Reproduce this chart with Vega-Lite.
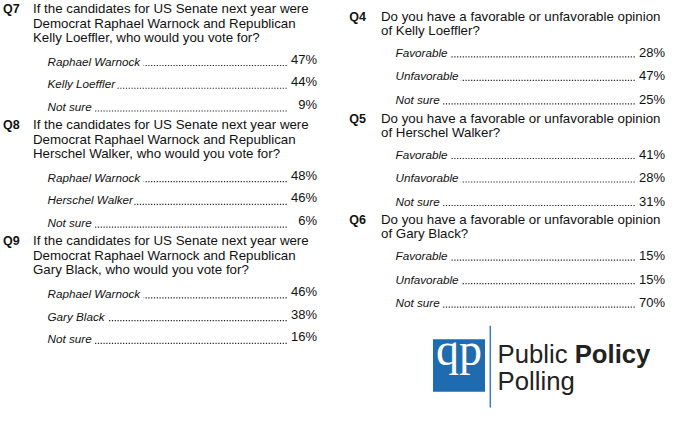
{
  "$schema": "https://vega.github.io/schema/vega-lite/v6.json",
  "padding": {"left": 3, "top": 0, "right": 0, "bottom": 0},
  "background": "white",
  "spacing": 32,
  "config": {"view": {"stroke": null}, "font": "Liberation Sans"},
  "datasets": {
    "left": [
      {"q": "Q7", "kind": "line", "n": 1, "text": "If the candidates for US Senate next year were"},
      {"q": "Q7", "kind": "line", "n": 2, "text": "Democrat Raphael Warnock and Republican"},
      {"q": "Q7", "kind": "line", "n": 3, "text": "Kelly Loeffler, who would you vote for?"},
      {"q": "Q7", "kind": "opt", "n": 1, "text": "Raphael Warnock", "pct": 47},
      {"q": "Q7", "kind": "opt", "n": 2, "text": "Kelly Loeffler", "pct": 44},
      {"q": "Q7", "kind": "opt", "n": 3, "text": "Not sure", "pct": 9},
      {"q": "Q8", "kind": "line", "n": 1, "text": "If the candidates for US Senate next year were"},
      {"q": "Q8", "kind": "line", "n": 2, "text": "Democrat Raphael Warnock and Republican"},
      {"q": "Q8", "kind": "line", "n": 3, "text": "Herschel Walker, who would you vote for?"},
      {"q": "Q8", "kind": "opt", "n": 1, "text": "Raphael Warnock", "pct": 48},
      {"q": "Q8", "kind": "opt", "n": 2, "text": "Herschel Walker", "pct": 46},
      {"q": "Q8", "kind": "opt", "n": 3, "text": "Not sure", "pct": 6},
      {"q": "Q9", "kind": "line", "n": 1, "text": "If the candidates for US Senate next year were"},
      {"q": "Q9", "kind": "line", "n": 2, "text": "Democrat Raphael Warnock and Republican"},
      {"q": "Q9", "kind": "line", "n": 3, "text": "Gary Black, who would you vote for?"},
      {"q": "Q9", "kind": "opt", "n": 1, "text": "Raphael Warnock", "pct": 46},
      {"q": "Q9", "kind": "opt", "n": 2, "text": "Gary Black", "pct": 38},
      {"q": "Q9", "kind": "opt", "n": 3, "text": "Not sure", "pct": 16}
    ],
    "right": [
      {"q": "Q4", "kind": "line", "n": 1, "text": "Do you have a favorable or unfavorable opinion"},
      {"q": "Q4", "kind": "line", "n": 2, "text": "of Kelly Loeffler?"},
      {"q": "Q4", "kind": "opt", "n": 1, "text": "Favorable", "pct": 28},
      {"q": "Q4", "kind": "opt", "n": 2, "text": "Unfavorable", "pct": 47},
      {"q": "Q4", "kind": "opt", "n": 3, "text": "Not sure", "pct": 25},
      {"q": "Q5", "kind": "line", "n": 1, "text": "Do you have a favorable or unfavorable opinion"},
      {"q": "Q5", "kind": "line", "n": 2, "text": "of Herschel Walker?"},
      {"q": "Q5", "kind": "opt", "n": 1, "text": "Favorable", "pct": 41},
      {"q": "Q5", "kind": "opt", "n": 2, "text": "Unfavorable", "pct": 28},
      {"q": "Q5", "kind": "opt", "n": 3, "text": "Not sure", "pct": 31},
      {"q": "Q6", "kind": "line", "n": 1, "text": "Do you have a favorable or unfavorable opinion"},
      {"q": "Q6", "kind": "line", "n": 2, "text": "of Gary Black?"},
      {"q": "Q6", "kind": "opt", "n": 1, "text": "Favorable", "pct": 15},
      {"q": "Q6", "kind": "opt", "n": 2, "text": "Unfavorable", "pct": 15},
      {"q": "Q6", "kind": "opt", "n": 3, "text": "Not sure", "pct": 70}
    ],
    "logo": [
      {"word1": "Public", "word2": "Policy", "word3": "Polling", "icon": "qp"}
    ]
  },
  "hconcat": [
    {
      "data": {"name": "left"},
      "bounds": "flush",
      "spacing": {"row": 6.2},
      "facet": {"row": {"field": "q", "type": "nominal", "header": {"labels": false, "title": null}}},
      "spec": {
        "width": 284,
        "height": 110,
        "resolve": {"scale": {"y": "independent"}},
        "layer": [
          {
            "transform": [{"filter": "datum.kind === 'line'"}],
            "mark": {"type": "text", "align": "left", "baseline": "alphabetic", "fontSize": 13.3, "color": "#111"},
            "encoding": {
              "x": {"datum": 0, "type": "quantitative", "scale": {"domain": [0, 284], "nice": false, "zero": false}, "axis": null},
              "y": {"field": "n", "type": "ordinal", "scale": {"type": "point", "domain": [1, 2, 3], "range": [13, 42], "padding": 0}, "axis": null},
              "text": {"field": "text"}
            }
          },
          {
            "transform": [{"filter": "datum.kind === 'line' && datum.n === 1"}],
            "mark": {"type": "text", "align": "left", "baseline": "alphabetic", "fontSize": 12.5, "fontWeight": "bold", "color": "#111"},
            "encoding": {
              "x": {"datum": -30, "type": "quantitative", "scale": {"domain": [0, 284], "nice": false, "zero": false}, "axis": null},
              "y": {"field": "n", "type": "ordinal", "scale": {"type": "point", "domain": [1, 2, 3], "range": [13, 42], "padding": 0}, "axis": null},
              "text": {"field": "q"}
            }
          },
          {
            "transform": [{"filter": "datum.kind === 'opt'"}],
            "mark": {"type": "rule", "strokeDash": [1.2, 1.6], "strokeWidth": 1.2, "color": "#222"},
            "encoding": {
              "x": {"datum": 14.5, "type": "quantitative", "scale": {"domain": [0, 284], "nice": false, "zero": false}, "axis": null},
              "x2": {"datum": 255},
              "y": {"field": "n", "type": "ordinal", "scale": {"type": "point", "domain": [1, 2, 3], "range": [65.5, 111], "padding": 0}, "axis": null}
            }
          },
          {
            "transform": [{"filter": "datum.kind === 'opt'"}],
            "mark": {"type": "text", "align": "left", "baseline": "alphabetic", "fontSize": 11.7, "fontStyle": "italic", "fill": "white", "stroke": "white", "strokeWidth": 7.5},
            "encoding": {
              "x": {"datum": 14.5, "type": "quantitative", "scale": {"domain": [0, 284], "nice": false, "zero": false}, "axis": null},
              "y": {"field": "n", "type": "ordinal", "scale": {"type": "point", "domain": [1, 2, 3], "range": [65.5, 111], "padding": 0}, "axis": null},
              "text": {"field": "text"}
            }
          },
          {
            "transform": [{"filter": "datum.kind === 'opt'"}],
            "mark": {"type": "text", "align": "left", "baseline": "alphabetic", "fontSize": 11.7, "fontStyle": "italic", "color": "#111"},
            "encoding": {
              "x": {"datum": 14.5, "type": "quantitative", "scale": {"domain": [0, 284], "nice": false, "zero": false}, "axis": null},
              "y": {"field": "n", "type": "ordinal", "scale": {"type": "point", "domain": [1, 2, 3], "range": [65.5, 111], "padding": 0}, "axis": null},
              "text": {"field": "text"}
            }
          },
          {
            "transform": [{"filter": "datum.kind === 'opt'"}, {"calculate": "datum.pct + '%'", "as": "pct_label"}],
            "mark": {"type": "text", "align": "right", "baseline": "alphabetic", "fontSize": 13, "dy": -2, "color": "#111"},
            "encoding": {
              "x": {"datum": 284, "type": "quantitative", "scale": {"domain": [0, 284], "nice": false, "zero": false}, "axis": null},
              "y": {"field": "n", "type": "ordinal", "scale": {"type": "point", "domain": [1, 2, 3], "range": [65.5, 111], "padding": 0}, "axis": null},
              "text": {"field": "pct_label"}
            }
          }
        ]
      }
    },
    {
      "spacing": 11.8,
      "vconcat": [
        {
          "data": {"name": "right"},
          "bounds": "flush",
          "spacing": {"row": 1.7},
          "facet": {"row": {"field": "q", "type": "nominal", "header": {"labels": false, "title": null}}},
          "spec": {
            "width": 284,
            "height": 100,
            "resolve": {"scale": {"y": "independent"}},
            "layer": [
              {
                "transform": [{"filter": "datum.kind === 'line'"}],
                "mark": {"type": "text", "align": "left", "baseline": "alphabetic", "fontSize": 13.3, "color": "#111"},
                "encoding": {
                  "x": {"datum": 0, "type": "quantitative", "scale": {"domain": [0, 284], "nice": false, "zero": false}, "axis": null},
                  "y": {"field": "n", "type": "ordinal", "scale": {"type": "point", "domain": [1, 2], "range": [20.8, 34.8], "padding": 0}, "axis": null},
                  "text": {"field": "text"}
                }
              },
              {
                "transform": [{"filter": "datum.kind === 'line' && datum.n === 1"}],
                "mark": {"type": "text", "align": "left", "baseline": "alphabetic", "fontSize": 12.5, "fontWeight": "bold", "color": "#111"},
                "encoding": {
                  "x": {"datum": -31.7, "type": "quantitative", "scale": {"domain": [0, 284], "nice": false, "zero": false}, "axis": null},
                  "y": {"field": "n", "type": "ordinal", "scale": {"type": "point", "domain": [1, 2], "range": [20.8, 34.8], "padding": 0}, "axis": null},
                  "text": {"field": "q"}
                }
              },
              {
                "transform": [{"filter": "datum.kind === 'opt'"}],
                "mark": {"type": "rule", "strokeDash": [1.2, 1.6], "strokeWidth": 1.2, "color": "#222"},
                "encoding": {
                  "x": {"datum": 14.5, "type": "quantitative", "scale": {"domain": [0, 284], "nice": false, "zero": false}, "axis": null},
                  "x2": {"datum": 255},
                  "y": {"field": "n", "type": "ordinal", "scale": {"type": "point", "domain": [1, 2, 3], "range": [56.8, 103.8], "padding": 0}, "axis": null}
                }
              },
              {
                "transform": [{"filter": "datum.kind === 'opt'"}],
                "mark": {"type": "text", "align": "left", "baseline": "alphabetic", "fontSize": 11.7, "fontStyle": "italic", "fill": "white", "stroke": "white", "strokeWidth": 7.5},
                "encoding": {
                  "x": {"datum": 14.5, "type": "quantitative", "scale": {"domain": [0, 284], "nice": false, "zero": false}, "axis": null},
                  "y": {"field": "n", "type": "ordinal", "scale": {"type": "point", "domain": [1, 2, 3], "range": [56.8, 103.8], "padding": 0}, "axis": null},
                  "text": {"field": "text"}
                }
              },
              {
                "transform": [{"filter": "datum.kind === 'opt'"}],
                "mark": {"type": "text", "align": "left", "baseline": "alphabetic", "fontSize": 11.7, "fontStyle": "italic", "color": "#111"},
                "encoding": {
                  "x": {"datum": 14.5, "type": "quantitative", "scale": {"domain": [0, 284], "nice": false, "zero": false}, "axis": null},
                  "y": {"field": "n", "type": "ordinal", "scale": {"type": "point", "domain": [1, 2, 3], "range": [56.8, 103.8], "padding": 0}, "axis": null},
                  "text": {"field": "text"}
                }
              },
              {
                "transform": [{"filter": "datum.kind === 'opt'"}, {"calculate": "datum.pct + '%'", "as": "pct_label"}],
                "mark": {"type": "text", "align": "right", "baseline": "alphabetic", "fontSize": 13, "color": "#111"},
                "encoding": {
                  "x": {"datum": 284, "type": "quantitative", "scale": {"domain": [0, 284], "nice": false, "zero": false}, "axis": null},
                  "y": {"field": "n", "type": "ordinal", "scale": {"type": "point", "domain": [1, 2, 3], "range": [56.8, 103.8], "padding": 0}, "axis": null},
                  "text": {"field": "pct_label"}
                }
              }
            ]
          }
        },
        {
          "data": {"name": "logo"},
          "width": 240,
          "height": 85,
          "layer": [
            {
              "mark": {"type": "rect", "color": "#1f6bb0"},
              "encoding": {
                "x": {"datum": 52, "type": "quantitative", "scale": {"domain": [0, 240], "nice": false, "zero": false}, "axis": null},
                "x2": {"datum": 104},
                "y": {"datum": 16.5, "type": "quantitative", "scale": {"domain": [0, 85], "nice": false, "zero": false, "reverse": true}, "axis": null},
                "y2": {"datum": 69}
              }
            },
            {
              "mark": {"type": "rule", "color": "#3a7cc2", "strokeWidth": 1.5},
              "encoding": {
                "x": {"datum": 109.3, "type": "quantitative", "scale": {"domain": [0, 240], "nice": false, "zero": false}, "axis": null},
                "y": {"datum": 3, "type": "quantitative", "scale": {"domain": [0, 85], "nice": false, "zero": false, "reverse": true}, "axis": null},
                "y2": {"datum": 84.7}
              }
            },
            {
              "mark": {"type": "text", "align": "center", "baseline": "alphabetic", "font": "Liberation Serif", "fontSize": 46, "color": "white"},
              "encoding": {
                "x": {"datum": 78, "type": "quantitative", "scale": {"domain": [0, 240], "nice": false, "zero": false}, "axis": null},
                "y": {"datum": 42, "type": "quantitative", "scale": {"domain": [0, 85], "nice": false, "zero": false, "reverse": true}, "axis": null},
                "text": {"field": "icon"}
              }
            },
            {
              "mark": {"type": "text", "align": "left", "baseline": "alphabetic", "fontSize": 25.7, "color": "#222"},
              "encoding": {
                "x": {"datum": 116.6, "type": "quantitative", "scale": {"domain": [0, 240], "nice": false, "zero": false}, "axis": null},
                "y": {"datum": 39.7, "type": "quantitative", "scale": {"domain": [0, 85], "nice": false, "zero": false, "reverse": true}, "axis": null},
                "text": {"field": "word1"}
              }
            },
            {
              "mark": {"type": "text", "align": "left", "baseline": "alphabetic", "fontSize": 25.7, "fontWeight": "bold", "color": "#222"},
              "encoding": {
                "x": {"datum": 193.7, "type": "quantitative", "scale": {"domain": [0, 240], "nice": false, "zero": false}, "axis": null},
                "y": {"datum": 39.7, "type": "quantitative", "scale": {"domain": [0, 85], "nice": false, "zero": false, "reverse": true}, "axis": null},
                "text": {"field": "word2"}
              }
            },
            {
              "mark": {"type": "text", "align": "left", "baseline": "alphabetic", "fontSize": 25.7, "color": "#222"},
              "encoding": {
                "x": {"datum": 116.6, "type": "quantitative", "scale": {"domain": [0, 240], "nice": false, "zero": false}, "axis": null},
                "y": {"datum": 67, "type": "quantitative", "scale": {"domain": [0, 85], "nice": false, "zero": false, "reverse": true}, "axis": null},
                "text": {"field": "word3"}
              }
            }
          ]
        }
      ]
    }
  ]
}
